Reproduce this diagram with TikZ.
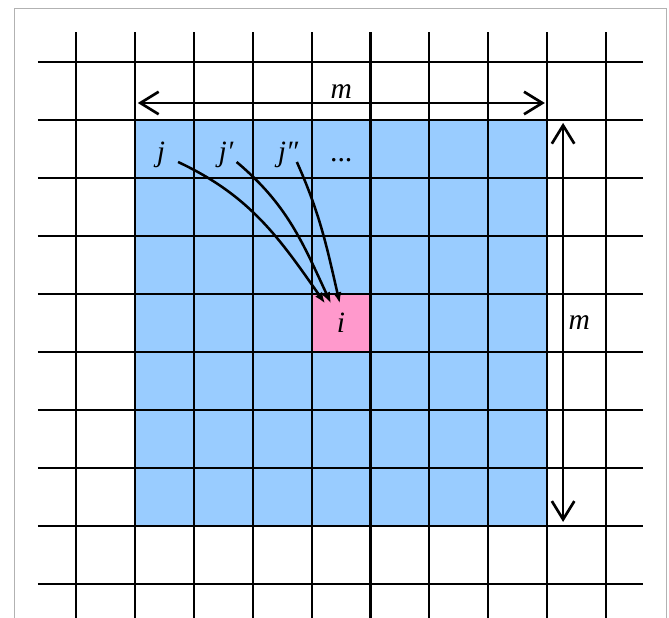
\documentclass[tikz,border=0pt]{standalone}
\usepackage{fontspec}
\setmainfont{Liberation Serif}
\usetikzlibrary{arrows.meta,calc}
\definecolor{cellblue}{HTML}{99CCFF}
\definecolor{cellpink}{HTML}{FF99CC}
\begin{document}
\begin{tikzpicture}[
    x=1.4725cm, y=1.45cm,
    gridline/.style={line width=1.5pt},
    frameline/.style={draw=gray!60, line width=0.6pt},
    dim/.style={line width=1.9pt, {Straight Barb[length=13pt,width=16pt]}-{Straight Barb[length=13pt,width=16pt]}},
    flow/.style={line width=1.8pt, -{Latex[length=8pt,width=6pt]}},
    lbl/.style={font=\fontsize{21}{25}\selectfont\itshape, inner sep=1pt},
]
\useasboundingbox (-1.290,-0.586) rectangle (10.068,10.069);
\draw[frameline] (-1.053,-0.586) -- (-1.053,9.931) -- (10.017,9.931) -- (10.017,-0.586);
% blue window and target cell
\fill[cellblue] (1,1) rectangle (8,8);
\node[lbl, fill=cellpink, minimum width=1.4725cm, minimum height=1.45cm, inner sep=0pt] (ci) at (4.5,4.5) {i};
\coordinate (bnw) at (1,8);
\coordinate (bne) at (8,8);
\coordinate (bse) at (8,1);
% grid
\foreach \k in {0,...,9} {
  \draw[gridline] (\k,-0.586) -- (\k,9.517);
  \draw[gridline] (-0.645,\k) -- (9.627,\k);
}
% source labels
\node[lbl, anchor=base] (lj) at (1.443,7.276) {j};
\node[lbl, anchor=base] (lj1) at (2.547,7.276) {j′};
\node[lbl, anchor=base] (lj2) at (3.60,7.276) {j″};
\node[lbl, anchor=base] (ldots) at (4.516,7.276) {...};
\draw[flow] ($(lj.base)+(0.29,0)$) to[out=-25,in=125] ($(ci.north)+(-0.27,-0.17)$);
\draw[flow] ($(lj1.base)+(0.18,0)$) to[out=-40,in=115] ($(ci.north)+(-0.17,-0.17)$);
\draw[flow] ($(lj2.base)+(0.15,0)$) to[out=-66,in=103] ($(ci.north)+(-0.02,-0.17)$);
% window size
\draw[dim] ($(bnw)+(0.05,0.293)$) -- node[lbl, above=1pt] (mtop) {m} ($(bne)+(-0.04,0.293)$);
\draw[dim] ($(bne)+(0.27,-0.05)$) -- node[lbl, right=2pt] (mside) {m} ($(bse)+(0.27,0.07)$);
\end{tikzpicture}
\end{document}
